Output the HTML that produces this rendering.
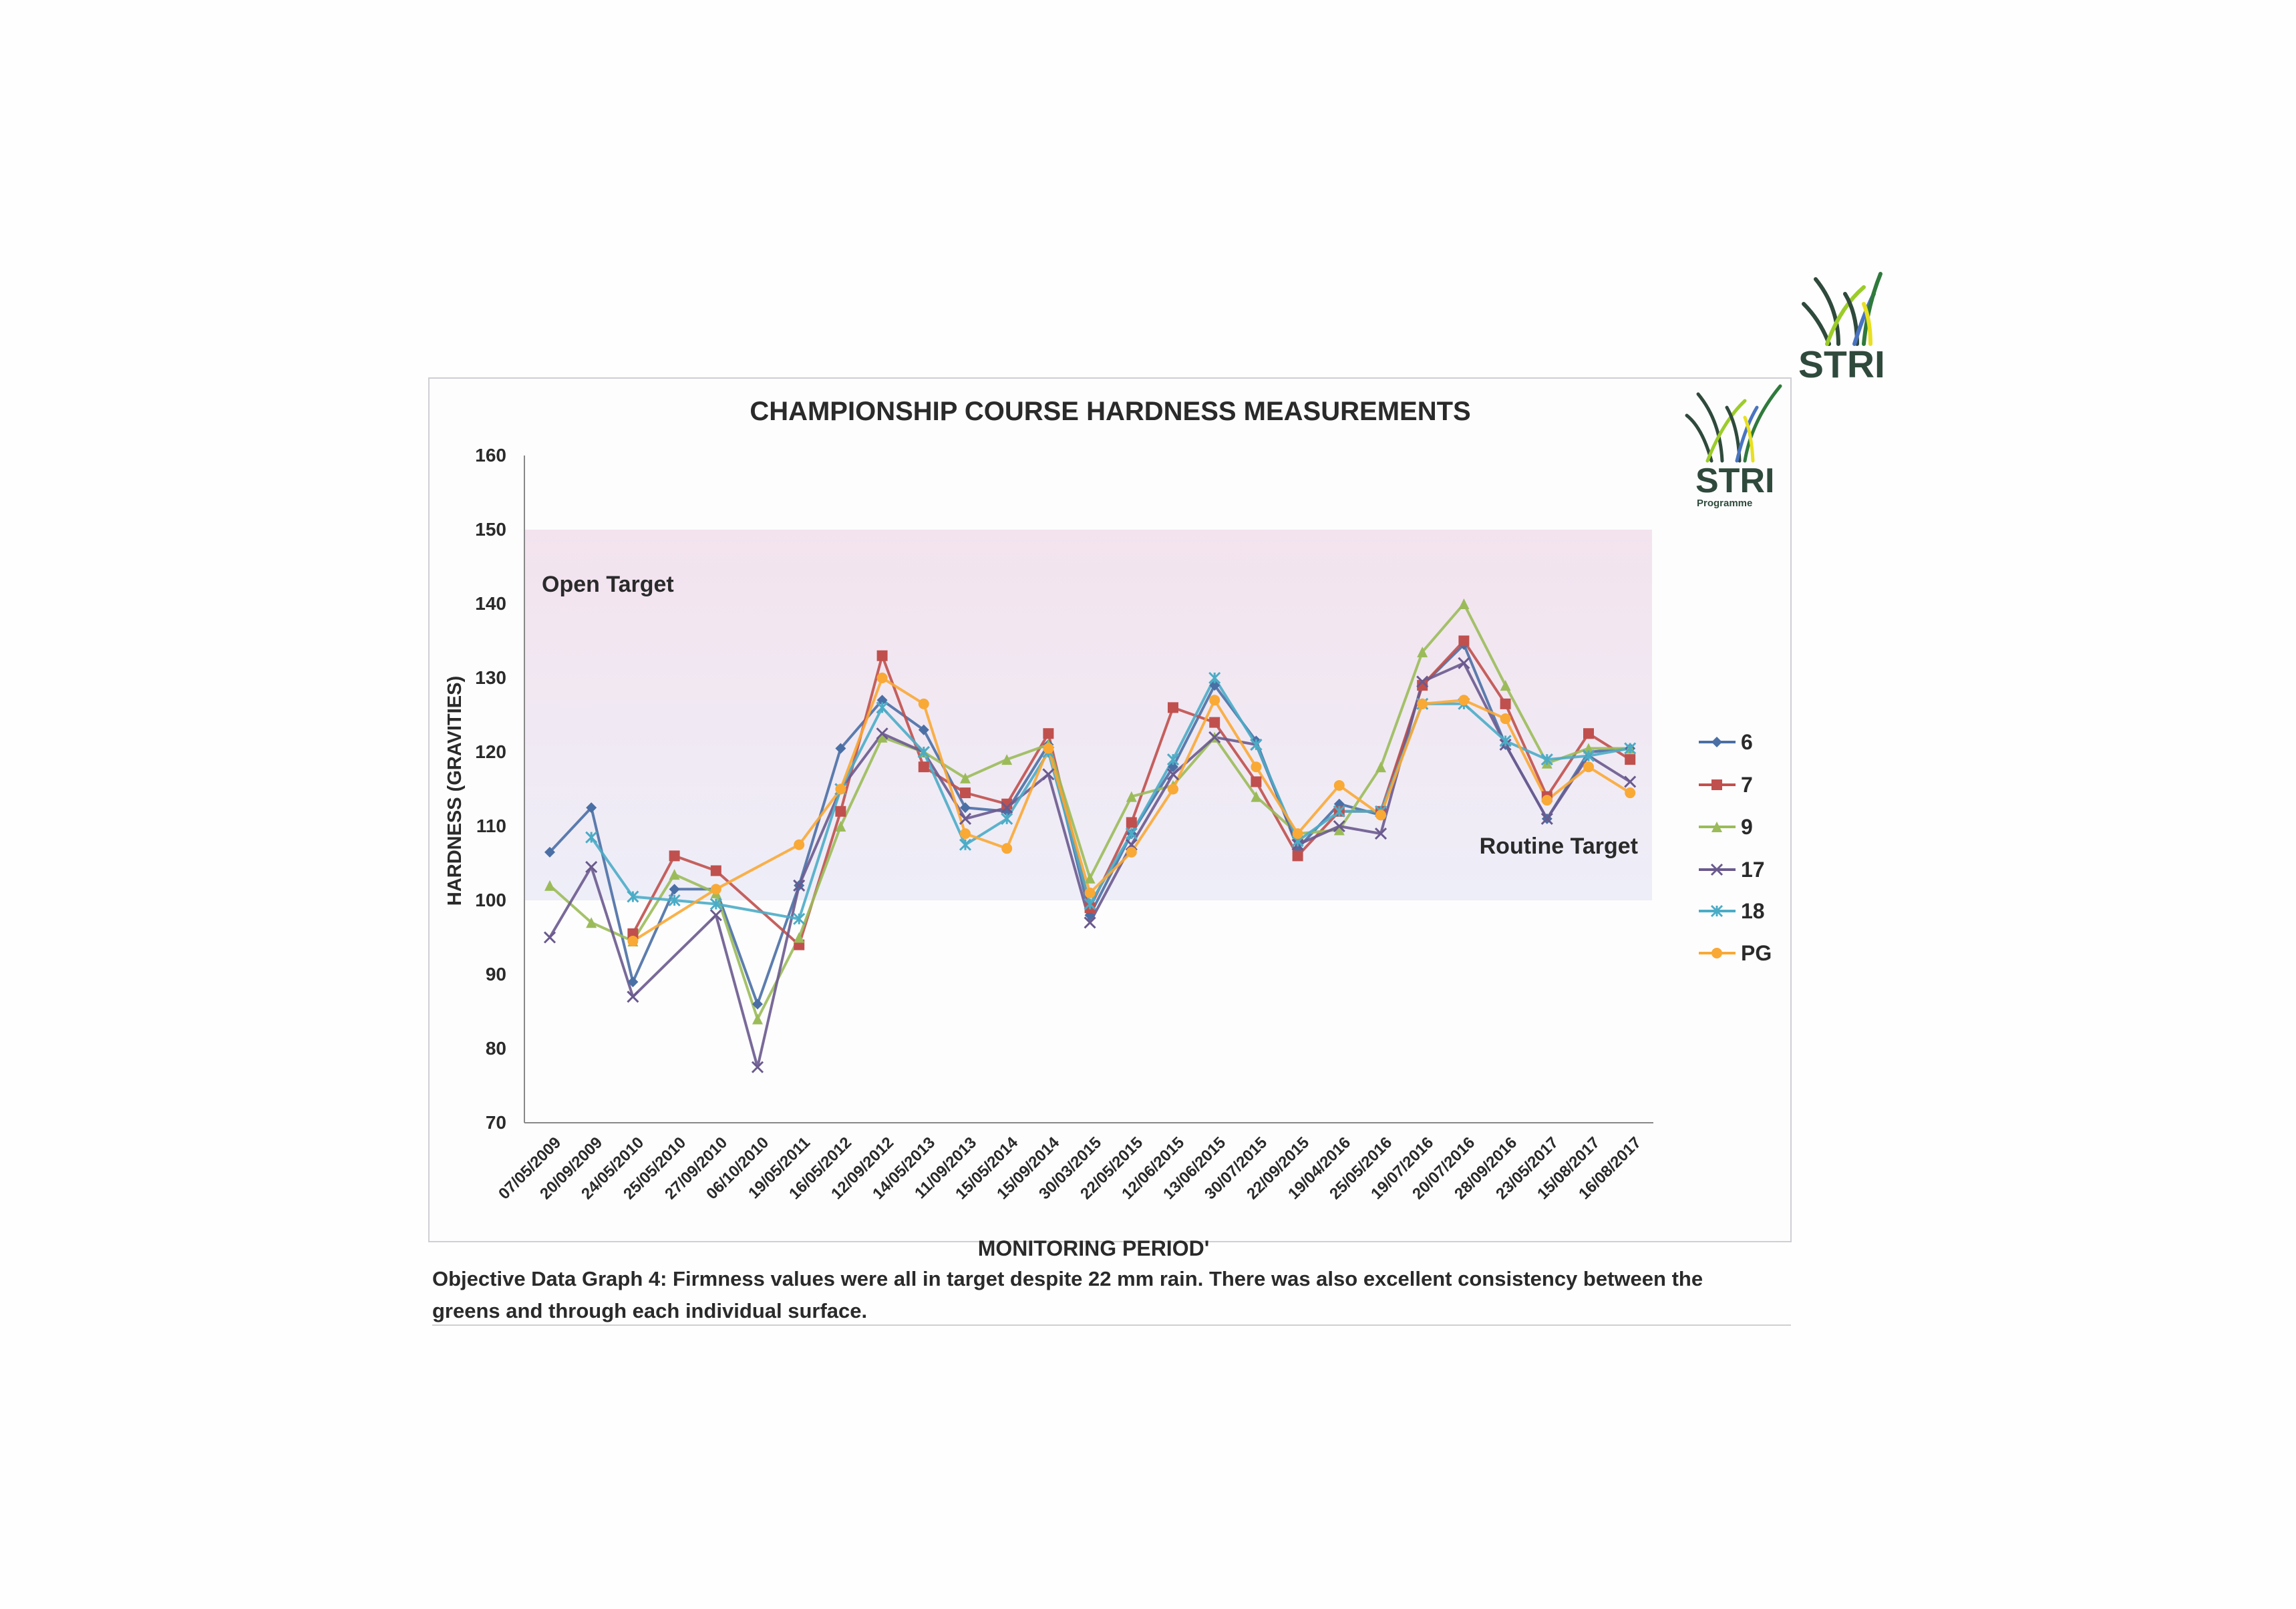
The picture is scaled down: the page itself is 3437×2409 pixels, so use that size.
<!DOCTYPE html>
<html><head><meta charset="utf-8"><style>
html,body{margin:0;padding:0;background:#fff}
svg{display:block}
text{font-family:"Liberation Sans",sans-serif;font-weight:bold;fill:#2a2a2a}
</style></head><body>
<svg id="s" width="3437" height="2409" viewBox="0 0 3437 2409" xmlns="http://www.w3.org/2000/svg">
<defs>
<linearGradient id="band" x1="0" y1="0" x2="0" y2="1">
<stop offset="0" stop-color="#f3e3ee"/><stop offset="1" stop-color="#eeeef8"/>
</linearGradient>
</defs>
<rect x="0" y="0" width="3437" height="2409" fill="#fefefe"/>
<rect x="642" y="566" width="2039" height="1293" fill="#fdfdfd" stroke="#cfcfd4" stroke-width="2"/>
<rect x="786" y="793" width="1687" height="555" fill="url(#band)"/>
<text x="1662" y="629" font-size="40" text-anchor="middle">CHAMPIONSHIP COURSE HARDNESS MEASUREMENTS</text>
<line x1="785" y1="682" x2="785" y2="1681" stroke="#888" stroke-width="2"/>
<line x1="785" y1="1681" x2="2475" y2="1681" stroke="#888" stroke-width="2"/>
<g font-size="28" text-anchor="end">
<text x="758" y="691">160</text><text x="758" y="802">150</text><text x="758" y="913">140</text>
<text x="758" y="1024">130</text><text x="758" y="1135">120</text><text x="758" y="1246">110</text>
<text x="758" y="1357">100</text><text x="758" y="1468">90</text><text x="758" y="1579">80</text>
<text x="758" y="1690">70</text>
</g>
<text transform="translate(690,1184) rotate(-90)" font-size="29" text-anchor="middle">HARDNESS (GRAVITIES)</text>
<text x="811" y="886" font-size="34">Open Target</text>
<text x="2452" y="1278" font-size="34" text-anchor="end">Routine Target</text>
<g id="xl" font-size="24">
<text transform="translate(841,1712) rotate(-45)" text-anchor="end">07/05/2009</text>
<text transform="translate(903,1712) rotate(-45)" text-anchor="end">20/09/2009</text>
<text transform="translate(965,1712) rotate(-45)" text-anchor="end">24/05/2010</text>
<text transform="translate(1028,1712) rotate(-45)" text-anchor="end">25/05/2010</text>
<text transform="translate(1090,1712) rotate(-45)" text-anchor="end">27/09/2010</text>
<text transform="translate(1152,1712) rotate(-45)" text-anchor="end">06/10/2010</text>
<text transform="translate(1214,1712) rotate(-45)" text-anchor="end">19/05/2011</text>
<text transform="translate(1276,1712) rotate(-45)" text-anchor="end">16/05/2012</text>
<text transform="translate(1339,1712) rotate(-45)" text-anchor="end">12/09/2012</text>
<text transform="translate(1401,1712) rotate(-45)" text-anchor="end">14/05/2013</text>
<text transform="translate(1463,1712) rotate(-45)" text-anchor="end">11/09/2013</text>
<text transform="translate(1525,1712) rotate(-45)" text-anchor="end">15/05/2014</text>
<text transform="translate(1587,1712) rotate(-45)" text-anchor="end">15/09/2014</text>
<text transform="translate(1650,1712) rotate(-45)" text-anchor="end">30/03/2015</text>
<text transform="translate(1712,1712) rotate(-45)" text-anchor="end">22/05/2015</text>
<text transform="translate(1774,1712) rotate(-45)" text-anchor="end">12/06/2015</text>
<text transform="translate(1836,1712) rotate(-45)" text-anchor="end">13/06/2015</text>
<text transform="translate(1898,1712) rotate(-45)" text-anchor="end">30/07/2015</text>
<text transform="translate(1961,1712) rotate(-45)" text-anchor="end">22/09/2015</text>
<text transform="translate(2023,1712) rotate(-45)" text-anchor="end">19/04/2016</text>
<text transform="translate(2085,1712) rotate(-45)" text-anchor="end">25/05/2016</text>
<text transform="translate(2147,1712) rotate(-45)" text-anchor="end">19/07/2016</text>
<text transform="translate(2209,1712) rotate(-45)" text-anchor="end">20/07/2016</text>
<text transform="translate(2272,1712) rotate(-45)" text-anchor="end">28/09/2016</text>
<text transform="translate(2334,1712) rotate(-45)" text-anchor="end">23/05/2017</text>
<text transform="translate(2396,1712) rotate(-45)" text-anchor="end">15/08/2017</text>
<text transform="translate(2458,1712) rotate(-45)" text-anchor="end">16/08/2017</text>
</g>
<text x="1637" y="1880" font-size="32" text-anchor="middle">MONITORING PERIOD'</text>
<g id="series"></g>
<g font-size="32">
<line x1="2543" y1="1111" x2="2598" y2="1111" stroke="#4a6fa5" stroke-width="4"/><text x="2606" y="1122">6</text>
<line x1="2543" y1="1175" x2="2598" y2="1175" stroke="#c0504d" stroke-width="4"/><text x="2606" y="1186">7</text>
<line x1="2543" y1="1238" x2="2598" y2="1238" stroke="#9bbb59" stroke-width="4"/><text x="2606" y="1249">9</text>
<line x1="2543" y1="1302" x2="2598" y2="1302" stroke="#6a5a8e" stroke-width="4"/><text x="2606" y="1313">17</text>
<line x1="2543" y1="1364" x2="2598" y2="1364" stroke="#4bacc6" stroke-width="4"/><text x="2606" y="1375">18</text>
<line x1="2543" y1="1427" x2="2598" y2="1427" stroke="#f9a935" stroke-width="4"/><text x="2606" y="1438">PG</text>
</g>
<g id="legm"></g>
<text x="647" y="1925" font-size="31">Objective Data Graph 4: Firmness values were all in target despite 22 mm rain. There was also excellent consistency between the</text>
<text x="647" y="1973" font-size="31">greens and through each individual surface.</text>
<line x1="647" y1="1984" x2="2681" y2="1984" stroke="#cfcfd4" stroke-width="2"/>
<g fill="none" stroke-width="6" stroke-linecap="round">
<path d="M2700 455 Q2725 480 2738 515" stroke="#2f4a3c"/>
<path d="M2718 418 Q2752 460 2752 515" stroke="#2f4a3c"/>
<path d="M2735 515 Q2755 460 2790 430" stroke="#9ccc2a"/>
<path d="M2762 440 Q2780 470 2780 515" stroke="#2f4a3c"/>
<path d="M2776 515 Q2790 470 2805 440" stroke="#4a74c0"/>
<path d="M2790 515 Q2795 460 2815 410" stroke="#2f7a3c"/>
<path d="M2800 515 Q2800 480 2790 455" stroke="#e8e020"/>
</g>
<text x="2692" y="565" font-size="57" style="fill:#2f4a3c">STRI</text>
<g fill="none" stroke-width="5" stroke-linecap="round">
<path d="M2525 622 Q2548 640 2562 690" stroke="#2f4a3c"/>
<path d="M2542 590 Q2575 630 2578 690" stroke="#2f4a3c"/>
<path d="M2556 690 Q2580 630 2612 600" stroke="#9ccc2a"/>
<path d="M2585 610 Q2602 640 2604 690" stroke="#2f4a3c"/>
<path d="M2600 690 Q2612 640 2630 610" stroke="#4a74c0"/>
<path d="M2612 690 Q2622 630 2665 578" stroke="#2f7a3c"/>
<path d="M2624 690 Q2622 650 2612 625" stroke="#e8e020"/>
</g>
<text x="2538" y="737" font-size="52" style="fill:#2f4a3c">STRI</text>
<text x="2540" y="758" font-size="15" style="fill:#2f4a3c">Programme</text>
</svg>
<script>
var N=null;
var S=[
["#4a6fa5","d",[106.5,112.5,89,101.5,101.5,86,102,120.5,127,123,112.5,112,121,98,109,118,129,121.5,107,113,111.5,129,134.5,121,111,120,120.5]],
["#c0504d","s",[N,N,95.5,106,104,N,94,112,133,118,114.5,113,122.5,99,110.5,126,124,116,106,112,112,129,135,126.5,114,122.5,119]],
["#9bbb59","t",[102,97,94.5,103.5,101,84,95,110,122,120,116.5,119,121,103,114,115.5,122,114,109,109.5,118,133.5,140,129,118.5,120.5,120.5]],
["#6a5a8e","x",[95,104.5,87,N,98,77.5,102,115,122.5,120,111,112.5,117,97,107.5,117,122,121,107.5,110,109,129.5,132,121,111,119.5,116]],
["#4bacc6","*",[N,108.5,100.5,100,99.5,N,97.5,115,126,120,107.5,111,120,99.5,109,119,130,121,108,112,112,126.5,126.5,121.5,119,119.5,120.5]],
["#f9a935","o",[N,N,94.5,N,101.5,N,107.5,115,130,126.5,109,107,120.5,101,106.5,115,127,118,109,115.5,111.5,126.5,127,124.5,113.5,118,114.5]]];
function X(i){return 823+62.2*i}function Y(v){return 1681-(v-70)*11.1}
function mk(c,t,x,y){var r=8;
if(t=="d")return '<path d="M'+x+' '+(y-r)+'L'+(x+r)+' '+y+'L'+x+' '+(y+r)+'L'+(x-r)+' '+y+'Z" fill="'+c+'"/>';
if(t=="s")return '<rect x="'+(x-r)+'" y="'+(y-r)+'" width="'+2*r+'" height="'+2*r+'" fill="'+c+'"/>';
if(t=="t")return '<path d="M'+x+' '+(y-r)+'L'+(x+r)+' '+(y+r)+'L'+(x-r)+' '+(y+r)+'Z" fill="'+c+'"/>';
if(t=="o")return '<circle cx="'+x+'" cy="'+y+'" r="'+r+'" fill="'+c+'"/>';
var s='<path d="M'+(x-r)+' '+(y-r)+'L'+(x+r)+' '+(y+r)+'M'+(x+r)+' '+(y-r)+'L'+(x-r)+' '+(y+r);
if(t=="*")s+='M'+x+' '+(y-r)+'L'+x+' '+(y+r);
return s+'" stroke="'+c+'" stroke-width="3"/>';}
var h='',m='';
S.forEach(function(s){var p=[];s[2].forEach(function(v,i){if(v!==null){p.push(X(i).toFixed(1)+','+Y(v).toFixed(1));m+=mk(s[0],s[1],X(i),Y(v));}});
h+='<polyline points="'+p.join(' ')+'" fill="none" stroke="'+s[0]+'" stroke-width="4" stroke-linejoin="round" opacity="0.9"/>';});
document.getElementById('series').innerHTML=h+m;
var ly=[1111,1175,1238,1302,1364,1427],lg='';
S.forEach(function(s,i){lg+=mk(s[0],s[1],2570,ly[i]);});
document.getElementById('legm').innerHTML=lg;
</script>
</body></html>
